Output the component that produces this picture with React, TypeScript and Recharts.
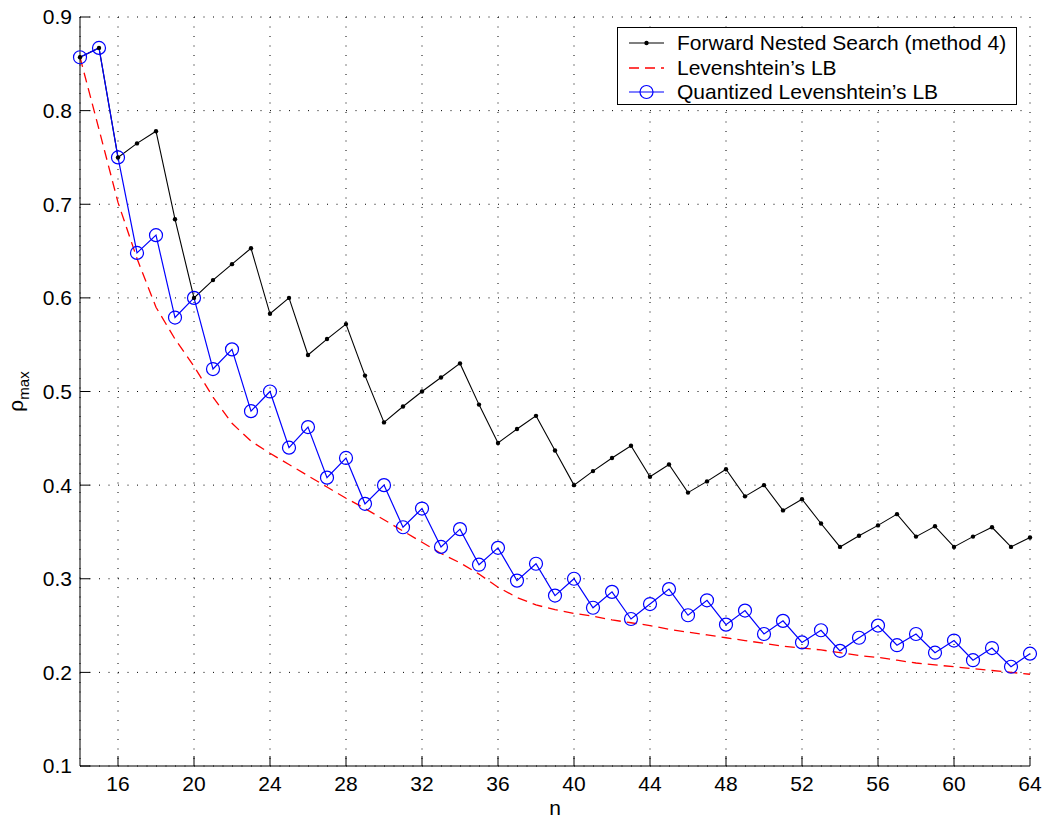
import React from "react";
import { LineChart, Line, XAxis, YAxis, CartesianGrid, Legend, Label } from "recharts";

// block length n
const N = [
  14, 15, 16, 17, 18, 19, 20, 21, 22, 23, 24, 25, 26, 27, 28, 29, 30,
  31, 32, 33, 34, 35, 36, 37, 38, 39, 40, 41, 42, 43, 44, 45, 46, 47,
  48, 49, 50, 51, 52, 53, 54, 55, 56, 57, 58, 59, 60, 61, 62, 63, 64,
];

// forward nested search (method 4)
const FNS = [
  0.857, 0.867, 0.750, 0.765, 0.778, 0.684, 0.600, 0.619, 0.636, 0.653, 0.583, 0.600, 0.539, 0.556, 0.572, 0.517, 0.467,
  0.484, 0.500, 0.515, 0.530, 0.486, 0.445, 0.460, 0.474, 0.437, 0.400, 0.415, 0.429, 0.442, 0.409, 0.422, 0.392, 0.404,
  0.417, 0.388, 0.400, 0.373, 0.385, 0.359, 0.334, 0.346, 0.357, 0.369, 0.345, 0.356, 0.334, 0.345, 0.355, 0.334, 0.344,
];

// Levenshtein lower bound
const LEV = [
  0.857, 0.780, 0.702, 0.642, 0.590, 0.556, 0.527, 0.494, 0.466, 0.447, 0.434, 0.422, 0.410, 0.398, 0.386, 0.375, 0.363,
  0.351, 0.339, 0.327, 0.317, 0.305, 0.291, 0.280, 0.272, 0.267, 0.263, 0.260, 0.256, 0.253, 0.250, 0.246, 0.243, 0.240,
  0.237, 0.234, 0.231, 0.228, 0.226, 0.224, 0.221, 0.218, 0.216, 0.213, 0.210, 0.208, 0.206, 0.204, 0.202, 0.200, 0.198,
];

// quantized Levenshtein lower bound
const QLEV = [
  0.857, 0.867, 0.750, 0.648, 0.667, 0.579, 0.600, 0.524, 0.545, 0.479, 0.500, 0.440, 0.462, 0.408, 0.429, 0.380, 0.400,
  0.355, 0.375, 0.334, 0.353, 0.315, 0.333, 0.298, 0.316, 0.282, 0.300, 0.269, 0.286, 0.257, 0.273, 0.289, 0.261, 0.277,
  0.251, 0.266, 0.241, 0.255, 0.232, 0.245, 0.223, 0.237, 0.250, 0.229, 0.241, 0.221, 0.234, 0.213, 0.226, 0.206, 0.220,
];

const X_TICKS = [16, 20, 24, 28, 32, 36, 40, 44, 48, 52, 56, 60, 64];
const Y_TICKS = [0.1, 0.2, 0.3, 0.4, 0.5, 0.6, 0.7, 0.8, 0.9];

const SERIES = [
  { key: "fns", name: "Forward Nested Search (method 4)", color: "#000000" },
  { key: "lev", name: "Levenshtein\u2019s LB", color: "#ff0000" },
  { key: "qlev", name: "Quantized Levenshtein\u2019s LB", color: "#0000ff" },
];

const data = N.map((n, i) => ({ n, fns: FNS[i], lev: LEV[i], qlev: QLEV[i] }));

const FONT = "'Liberation Sans', Arial, Helvetica, sans-serif";
const tickStyle = { fill: "#000", fontSize: 21, fontFamily: FONT };

function RhoLabel(props: any) {
  const vb = props.viewBox || {};
  const cx = 23;
  const cy = vb.y + vb.height / 2;
  return (
    <text
      x={cx}
      y={cy}
      transform={`rotate(-90, ${cx}, ${cy})`}
      textAnchor="middle"
      fontFamily={FONT}
      fontSize={21}
      fill="#000"
    >
      <tspan>ρ</tspan>
      <tspan fontSize={15} dy={6}>max</tspan>
    </text>
  );
}

function Swatch({ k, color }: { k: string; color: string }) {
  return (
    <svg width={50} height={24} style={{ display: "block" }}>
      {k === "lev" ? (
        <line x1={11} y1={12} x2={46} y2={12} stroke={color} strokeWidth={1.3} strokeDasharray="10 6" />
      ) : (
        <line x1={11} y1={12} x2={46} y2={12} stroke={color} strokeWidth={1.2} />
      )}
      {k === "fns" && <circle cx={28.5} cy={12} r={2.2} fill={color} />}
      {k === "qlev" && <circle cx={28.5} cy={12} r={6.5} fill="none" stroke={color} strokeWidth={1.2} />}
    </svg>
  );
}

function LegendBox(props: any) {
  const items = props.payload || [];
  return (
    <div
      style={{
        boxSizing: "border-box",
        width: 400,
        height: 78,
        border: "1px solid #000",
        background: "#fff",
        paddingTop: 3,
        fontFamily: FONT,
        fontSize: 21,
        color: "#000",
      }}
    >
      {items.map((it: any) => (
        <div key={it.dataKey} style={{ display: "flex", alignItems: "center", height: 24.5 }}>
          <Swatch k={it.dataKey} color={it.color} />
          <span style={{ marginLeft: 9, lineHeight: "24px", whiteSpace: "nowrap" }}>{it.value}</span>
        </div>
      ))}
    </div>
  );
}

export default function App() {
  return (
    <div style={{ position: "absolute", left: 0, top: 0, width: 1042, height: 819, background: "#fff" }}>
      <LineChart width={1042} height={819} data={data} margin={{ top: 17, right: 12, bottom: 0, left: 0 }}>
        <CartesianGrid stroke="#000" strokeWidth={1} strokeDasharray="1 8.5" />
        <XAxis
          dataKey="n"
          type="number"
          domain={[14, 64]}
          ticks={X_TICKS}
          interval={0}
          height={53}
          tickSize={-10}
          tickMargin={20}
          tick={tickStyle}
          axisLine={{ stroke: "#000" }}
          tickLine={{ stroke: "#000" }}
        >
          <Label value="n" position="insideBottom" offset={4} fill="#000" fontSize={21} fontFamily={FONT} />
        </XAxis>
        <XAxis
          xAxisId="top"
          orientation="top"
          dataKey="n"
          type="number"
          domain={[14, 64]}
          ticks={X_TICKS}
          interval={0}
          height={0}
          tickSize={-10}
          tick={false}
          axisLine={{ stroke: "#000" }}
          tickLine={{ stroke: "#000" }}
        />
        <YAxis
          type="number"
          domain={[0.1, 0.9]}
          ticks={Y_TICKS}
          interval={0}
          width={80}
          tickSize={-10}
          tickMargin={18}
          tick={tickStyle}
          tickFormatter={(v: number) => v.toFixed(1)}
          axisLine={{ stroke: "#000" }}
          tickLine={{ stroke: "#000" }}
        >
          <Label content={RhoLabel} />
        </YAxis>
        <YAxis
          yAxisId="right"
          orientation="right"
          type="number"
          domain={[0.1, 0.9]}
          ticks={Y_TICKS}
          interval={0}
          width={0}
          tickSize={-10}
          tick={false}
          axisLine={{ stroke: "#000" }}
          tickLine={{ stroke: "#000" }}
        />
        <Legend
          layout="horizontal"
          verticalAlign="middle"
          align="center"
          content={LegendBox}
          wrapperStyle={{ left: 617, top: 27, width: 400, height: 78 }}
        />
        <Line
          dataKey="fns"
          name={SERIES[0].name}
          stroke={SERIES[0].color}
          strokeWidth={1.1}
          dot={{ r: 2.2, fill: SERIES[0].color, stroke: SERIES[0].color, strokeWidth: 0 }}
          activeDot={false}
          isAnimationActive={false}
        />
        <Line
          dataKey="lev"
          name={SERIES[1].name}
          stroke={SERIES[1].color}
          strokeWidth={1.3}
          strokeDasharray="10 6"
          dot={false}
          activeDot={false}
          isAnimationActive={false}
        />
        <Line
          dataKey="qlev"
          name={SERIES[2].name}
          stroke={SERIES[2].color}
          strokeWidth={1.2}
          dot={{ r: 6.5, fill: "none", stroke: SERIES[2].color, strokeWidth: 1.2 }}
          activeDot={false}
          isAnimationActive={false}
        />
      </LineChart>
    </div>
  );
}
